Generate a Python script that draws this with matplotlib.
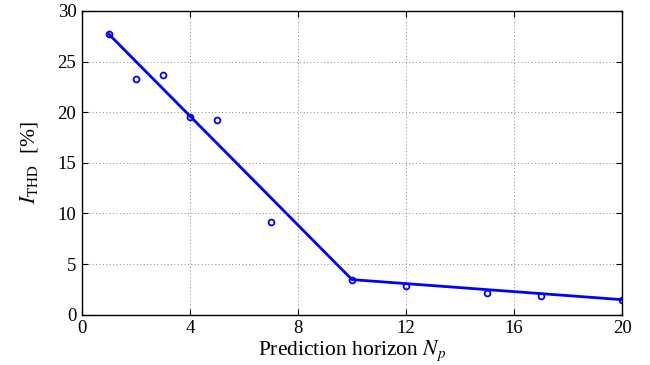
import numpy as np
import matplotlib
matplotlib.use('Agg')
import matplotlib.pyplot as plt

plt.rcParams['font.family'] = ['Liberation Serif', 'DejaVu Serif']
plt.rcParams['mathtext.fontset'] = 'stix'

# measured points
horizon = [1, 2, 3, 4, 5, 7, 10, 12, 15, 17, 20]
thd = [27.7, 23.3, 23.65, 19.5, 19.27, 9.13, 3.46, 2.87, 2.11, 1.82, 1.48]

# piecewise fit line
fit_x = [1, 10, 20]
fit_y = [27.7, 3.46, 1.48]

fig = plt.figure(figsize=(6.5, 3.65), dpi=100)
ax = fig.add_axes([0.126, 0.138, 0.831, 0.832])

ax.plot(fit_x, fit_y, '-', color='#0000ff', lw=2)
ax.plot(horizon, thd, 'o', mfc='none', mec='#0000ff', ms=4.2, mew=1.3)

ax.set_xlim(0, 20)
ax.set_ylim(0, 30)
ax.set_xticks([0, 4, 8, 12, 16, 20])
ax.set_yticks([0, 5, 10, 15, 20, 25, 30])
ax.grid(True, linestyle=(0, (1, 2.5)), color='#888888', lw=0.7)
ax.tick_params(direction='in', top=True, right=True, labelsize=13.5, length=4, pad=4)
for s in ax.spines.values():
    s.set_linewidth(1.0)

ax.set_xlabel(r'Prediction horizon $N_p$', fontsize=15.5, labelpad=1)
ax.set_ylabel(r'$I_{\mathrm{THD}}$  [%]', fontsize=15.5, labelpad=13)

fig.savefig('out.png', dpi=100)
